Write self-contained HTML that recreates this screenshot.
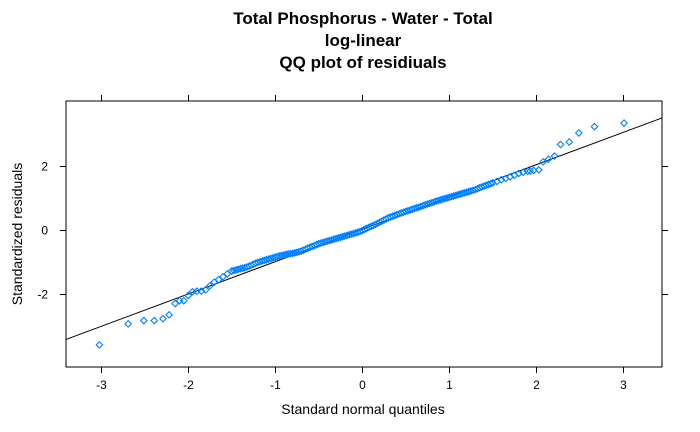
<!DOCTYPE html>
<html><head><meta charset="utf-8"><style>
body{margin:0;background:#fff;}
svg{display:block;font-family:"Liberation Sans",Arial,sans-serif;}
</style></head><body>
<svg id="chart" width="700" height="432" viewBox="0 0 700 432">
<g font-weight="bold" font-size="17" text-anchor="middle">
<text x="363" y="24">Total Phosphorus - Water - Total</text>
<text x="363" y="46">log-linear</text>
<text x="363" y="68">QQ plot of residiuals</text>
</g>
<text x="363" y="414" font-size="14" text-anchor="middle">Standard normal quantiles</text>
<text x="0" y="0" font-size="14" text-anchor="middle" transform="translate(22,234) rotate(-90)">Standardized residuals</text>
<g id="axes"></g>
<g id="marks"></g>
</svg>
<script>
const xTicks=[-3,-2,-1,0,1,2,3];
const yTicks=[-2,0,2];
const quantiles=[-3.02,-2.69,-2.51,-2.39,-2.29,-2.22,-2.15,-2.10,-2.05,-2.00,-1.95,-1.90,-1.85,-1.80,-1.75,-1.70,-1.65,-1.60,-1.55,-1.50,-1.45,-1.40,-1.35,-1.30,-1.25,-1.20,-1.15,-1.10,-1.05,-1.00,-0.95,-0.90,-0.85,-0.80,-0.75,-0.70,-0.65,-0.60,-0.55,-0.50,-0.45,-0.40,-0.35,-0.30,-0.25,-0.20,-0.15,-0.10,-0.05,0,0.05,0.10,0.15,0.20,0.25,0.30,0.35,0.40,0.45,0.50,0.55,0.60,0.65,0.70,0.75,0.80,0.85,0.90,0.95,1.00,1.05,1.10,1.15,1.20,1.25,1.30,1.35,1.40,1.45,1.50,1.55,1.60,1.65,1.70,1.75,1.80,1.85,1.90,1.93,1.97,2.03,2.08,2.14,2.21,2.28,2.38,2.49,2.67,3.01,
-1.475,-1.425,-1.375,-1.325,-1.275,-1.225,-1.175,-1.125,-1.075,-1.025,-0.975,-0.925,-0.875,-0.825,-0.775,-0.725,-0.675,-0.625,-0.575,-0.525,-0.475,-0.425,-0.375,-0.325,-0.275,-0.225,-0.175,-0.125,-0.075,-0.025,0.025,0.075,0.125,0.175,0.225,0.275,0.325,0.375,0.425,0.475,0.525,0.575,0.625,0.675,0.725,0.775,0.825,0.875,0.925,0.975,1.025,1.075,1.125,1.175,1.225,1.275,1.325,1.375,1.425,1.475];
const residuals=[-3.59,-2.93,-2.83,-2.83,-2.77,-2.65,-2.30,-2.21,-2.21,-2.05,-1.93,-1.91,-1.91,-1.87,-1.74,-1.63,-1.55,-1.46,-1.37,-1.28,-1.25,-1.21,-1.18,-1.13,-1.07,-1.01,-0.97,-0.93,-0.89,-0.85,-0.81,-0.78,-0.75,-0.73,-0.70,-0.66,-0.60,-0.54,-0.49,-0.43,-0.39,-0.35,-0.31,-0.27,-0.23,-0.19,-0.15,-0.11,-0.07,-0.02,0.05,0.11,0.17,0.24,0.31,0.38,0.43,0.48,0.53,0.58,0.62,0.67,0.71,0.76,0.81,0.85,0.90,0.94,0.98,1.02,1.06,1.10,1.14,1.18,1.22,1.26,1.32,1.37,1.42,1.47,1.52,1.57,1.61,1.66,1.71,1.77,1.80,1.83,1.84,1.86,1.88,2.13,2.21,2.31,2.67,2.75,3.03,3.23,3.34,
-1.265,-1.23,-1.195,-1.155,-1.10,-1.04,-0.99,-0.95,-0.91,-0.87,-0.83,-0.795,-0.765,-0.74,-0.715,-0.68,-0.63,-0.57,-0.515,-0.46,-0.41,-0.37,-0.33,-0.29,-0.25,-0.21,-0.17,-0.13,-0.09,-0.045,0.015,0.08,0.14,0.205,0.275,0.345,0.405,0.455,0.505,0.555,0.60,0.645,0.69,0.735,0.785,0.83,0.875,0.92,0.96,1.00,1.04,1.08,1.12,1.16,1.20,1.24,1.29,1.345,1.395,1.445];
const refLine=[0.02,1.01]; // intercept, slope

const L=66,R=662,T=101,B=367;
const xDom=[-3.4046,3.4461], yDom=[-4.28,4.03];
const sx=v=>L+(v-xDom[0])/(xDom[1]-xDom[0])*(R-L);
const sy=v=>B-(v-yDom[0])/(yDom[1]-yDom[0])*(B-T);
const NS="http://www.w3.org/2000/svg";
function mk(tag,attrs,parent){const e=document.createElementNS(NS,tag);for(const k in attrs)e.setAttribute(k,attrs[k]);parent.appendChild(e);return e;}
const axes=document.getElementById('axes'), marks=document.getElementById('marks');
const frame=mk('rect',{x:L,y:T,width:R-L,height:B-T,fill:'none',stroke:'#000','stroke-width':1},axes);


xTicks.forEach(t=>{
  const x=Math.round(sx(t))+0.5;
  const tb=mk('line',{x1:x,x2:x,y1:B,y2:B+6,stroke:'#000'},axes);
  
  
  const tt=mk('line',{x1:x,x2:x,y1:T,y2:T-6,stroke:'#000'},axes);
  
  
  const lb=mk('text',{x:x,y:B+22,'font-size':12,'text-anchor':'middle'},axes);
  lb.textContent=t;
  
  
});
yTicks.forEach(t=>{
  const y=Math.round(sy(t))+0.5;
  const tl=mk('line',{x1:L,x2:L-6,y1:y,y2:y,stroke:'#000'},axes);
  
  
  const tr=mk('line',{x1:R,x2:R+6,y1:y,y2:y,stroke:'#000'},axes);
  
  
  const lb=mk('text',{x:48,y:y+4,'font-size':12,'text-anchor':'end'},axes);
  lb.textContent=t;
  
  
});
const line=mk('line',{x1:L,x2:R,y1:sy(refLine[0]+refLine[1]*xDom[0]),y2:sy(refLine[0]+refLine[1]*xDom[1]),stroke:'#000','stroke-width':1},marks);


quantiles.forEach((q,i)=>{
  const cx=sx(q), cy=sy(residuals[i]), r=3.2;
  const p=mk('polygon',{points:`${cx},${cy-r} ${cx+r},${cy} ${cx},${cy+r} ${cx-r},${cy}`,fill:'none',stroke:'#0080ff','stroke-width':1.1},marks);
  
  
});
</script>
</body></html>
